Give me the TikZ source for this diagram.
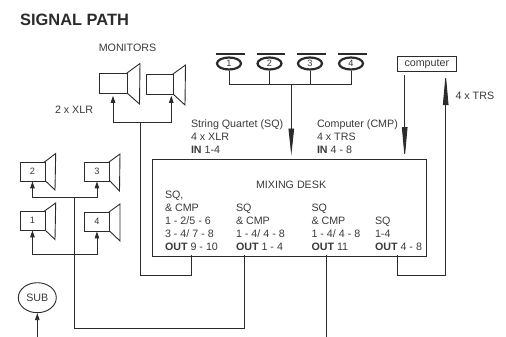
\documentclass[tikz,border=0pt]{standalone}
\usepackage{fontspec}
\setmainfont{Liberation Sans}
\usetikzlibrary{arrows.meta,calc,shapes.geometric}
\definecolor{ink}{HTML}{2B2B2B}
\definecolor{txt}{HTML}{3A3A3A}
\tikzset{
  wire/.style={draw=ink,line width=0.9pt},
  small/.style={wire,-{Triangle[length=7pt,width=4.5pt]}},
  long/.style={wire,-{Triangle[length=27pt,width=5.5pt]}},
  longer/.style={wire,-{Triangle[length=32pt,width=5.5pt]}},
  lbl/.style={text=txt,inner sep=0pt,outer sep=0pt,align=left,anchor=north west,font=\fontsize{10.7}{13}\selectfont},
  num/.style={text=txt,font=\fontsize{9.2}{10}\selectfont},
  body/.style={draw=ink,line width=0.9pt,fill=white,inner sep=0pt},
  cone/.style={draw=ink,line width=0.9pt,fill=white,line join=miter},
  mic/.style={draw=ink,line width=2.2pt,fill=white,ellipse,minimum width=24pt,minimum height=12pt,inner sep=0pt,font=\fontsize{9.2}{10}\selectfont,text=txt},
  bar/.style={draw=ink,line width=2pt},
}
\begin{document}
\begin{tikzpicture}[x=1pt,y=-1pt]
\useasboundingbox (0,0) rectangle (506,337);
\node[anchor=base west,inner sep=0pt,text=ink,font=\fontsize{16.4}{18}\selectfont\bfseries] (title) at (20,25.5) {SIGNAL PATH};
\node[lbl,anchor=center] (montxt) at (127.5,47.5) {MONITORS};
\node[lbl] (xlr) at (55,106.2) {2 x XLR};
\node[lbl] (sqtxt) at (191,119.7) {String Quartet (SQ)\\4 x XLR\\\textbf{IN} 1-4};
\node[lbl] (cmptxt) at (317,119.7) {Computer (CMP)\\4 x TRS\\\textbf{IN} 4 - 8};
\node[lbl] (trs) at (455.5,92) {4 x TRS};

% mixing desk
\node[draw=ink,line width=1.1pt,minimum width=274.5pt,minimum height=96.5pt,inner sep=0pt,anchor=north west] (desk) at (151.5,159) {};
\node[lbl] (dt) at (256,181.3) {MIXING DESK};
\node[lbl] (c1) at (165,190.6) {SQ,\\\& CMP\\1 - 2/5 - 6\\3 - 4/ 7 - 8\\\textbf{OUT} 9 - 10};
\node[lbl] (c2) at (236,203.6) {SQ\\\& CMP\\1 - 4/ 4 - 8\\\textbf{OUT} 1 - 4};
\node[lbl] (c3) at (311.5,203.6) {SQ\\\& CMP\\1 - 4/ 4 - 8\\\textbf{OUT} 11};
\node[lbl] (c4) at (375,216.6) {SQ\\1-4\\\textbf{OUT} 4 - 8};

% monitors
\path[cone] (127,73) -- (140,63.5) -- (139.5,104) -- (127,93) -- cycle;
\node[body,minimum width=28pt,minimum height=20pt,anchor=north west] (m1) at (99,73) {};
\path[cone] (173,74) -- (185.5,65) -- (185,105) -- (173,94) -- cycle;
\node[body,minimum width=27pt,minimum height=20pt,anchor=north west] (m2) at (146,74) {};

% small speakers
\path[cone] (44.5,162) -- (55.7,153.5) -- (55,190) -- (44.5,180) -- cycle;
\node[body,minimum width=25pt,minimum height=18.5pt,anchor=north west,num] (s2) at (19.5,162) {2};
\path[cone] (109,162) -- (120,154) -- (119.5,191) -- (109,180) -- cycle;
\node[body,minimum width=25pt,minimum height=18.5pt,anchor=north west,num] (s3) at (84,162) {3};
\path[cone] (44.5,211) -- (55.7,203) -- (55,239.5) -- (44.5,229.5) -- cycle;
\node[body,minimum width=25pt,minimum height=18.5pt,anchor=north west,num] (s1) at (19.5,211) {1};
\path[cone] (109,212) -- (120,204) -- (120,241) -- (109,230.5) -- cycle;
\node[body,minimum width=25pt,minimum height=18.5pt,anchor=north west,num] (s4) at (84,212) {4};

% sub
\node[draw=ink,line width=0.9pt,ellipse,minimum width=38pt,minimum height=30pt,inner sep=0pt,text=txt,font=\fontsize{10.7}{11}\selectfont] (sub) at (37.3,297.7) {SUB};

% microphones
\node[mic] (a1) at (229,63.5) {1};
\node[mic] (a2) at (269.5,63.5) {2};
\node[mic] (a3) at (310,63.5) {3};
\node[mic] (a4) at (351,63.5) {4};
\draw[bar] (216,54.5) -- (244.5,54.5);
\draw[bar] (256.5,54.5) -- (285,54.5);
\draw[bar] (297,54.5) -- (325.5,54.5);
\draw[bar] (338,54.5) -- (366.5,54.5);

% computer
\node[draw=ink,line width=1.1pt,minimum width=58.5pt,minimum height=15pt,inner sep=0pt,anchor=north west,text=txt,font=\fontsize{10.7}{11}\selectfont] (comp) at (397,56) {computer};

% junctions and free ends
\coordinate (micbus) at (291.3,84);
\coordinate (monbus) at (140,122.3);
\coordinate (spkA) at (74.7,197);
\coordinate (spkB) at (74.7,254.7);
\coordinate (o1) at (191,255.3);
\coordinate (o2) at (244.3,255.3);
\coordinate (o3) at (326,255.3);
\coordinate (o4) at (397,255.3);
\coordinate (endsub) at (37.3,337);
\coordinate (endout) at (326,337);
\coordinate (stub1) at (404.7,71.5);

% mic bus
\draw[wire] (a1.south) |- (micbus);
\draw[wire] (a4.south) |- (micbus);
\draw[wire] (a2.south) -- (a2.south |- micbus);
\draw[wire] (a3.south) -- (a3.south |- micbus);
\draw[long] (micbus) -- ($(micbus |- desk.north)+(0,-3.5)$);
% computer to desk and back
\draw[longer] (stub1 |- comp.south) ++(0,3) -- (stub1 |- desk.north);
\draw[longer] (o4) -- (397,275.7) -- (445.7,275.7) -- (445.7,73);

% monitors
\draw[small] (monbus) -| (113,95.8);
\draw[small] (monbus) -| (171.3,95.8);
\draw[wire] (monbus) -- (140,275.7) -- (191,275.7) -- (o1);

% small speakers
\draw[small] (spkA) -| (s2.south);
\draw[small] (spkA) -| (s3.south);
\draw[small] (spkB) -| (s1.south);
\draw[small] (spkB) -| (s4.south);
\draw[wire] (spkA) -- (74.7,328.7) -- (244.3,328.7) -- (o2);

% others
\draw[small] (endsub) -- (sub.south);
\draw[wire] (o3) -- (endout);
\end{tikzpicture}
\end{document}
